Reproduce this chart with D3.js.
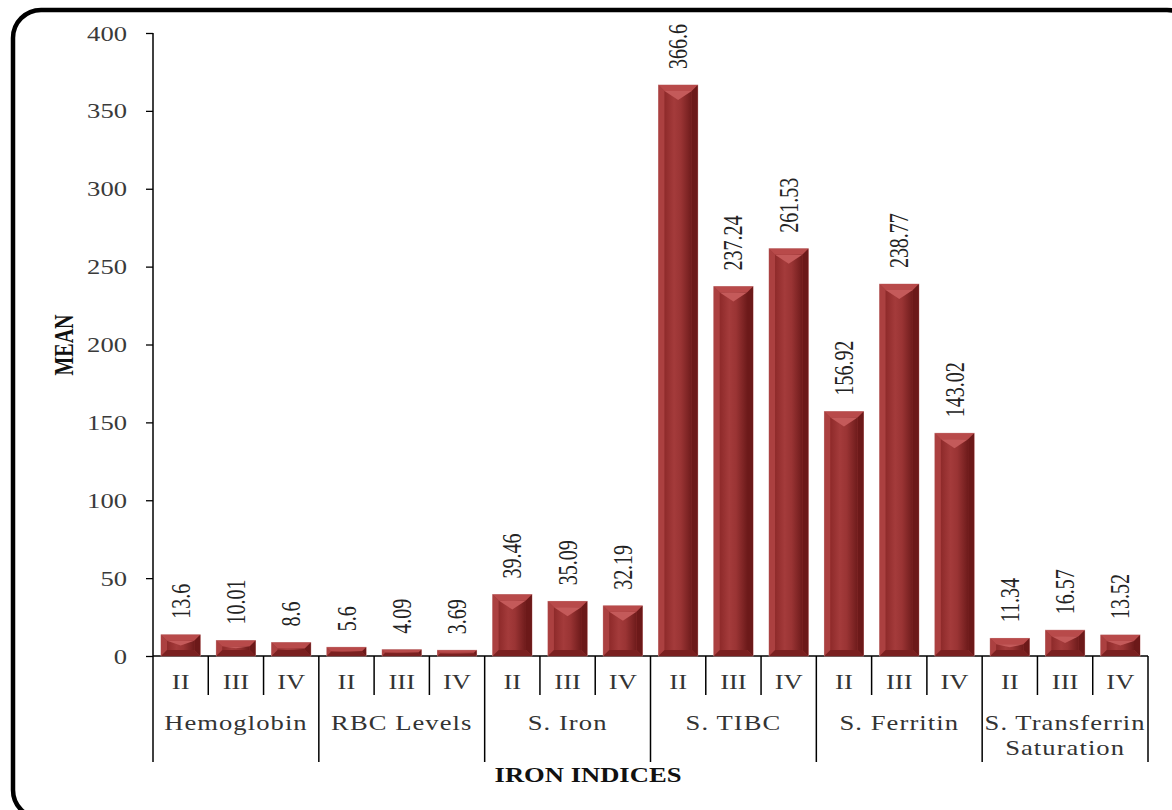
<!DOCTYPE html>
<html>
<head>
<meta charset="utf-8">
<script src="https://cdn.jsdelivr.net/npm/d3@7"></script>
<style>
  html, body { margin: 0; padding: 0; background: #fff; }
  svg { display: block; }
  text { font-family: "Liberation Serif", "Times New Roman", serif; }
</style>
</head>
<body>
<svg id="chart" width="1172" height="810"></svg>
<script>
// Iron indices by stage
const groups = ["Hemoglobin", "RBC Levels", "S. Iron", "S. TIBC", "S. Ferritin", "S. Transferrin Saturation"];
const groupLines = [["Hemoglobin"], ["RBC Levels"], ["S. Iron"], ["S. TIBC"], ["S. Ferritin"], ["S. Transferrin", "Saturation"]];
const stages = ["II", "III", "IV"];
const hemoglobin = [13.6, 10.01, 8.6];
const rbcLevels = [5.6, 4.09, 3.69];
const sIron = [39.46, 35.09, 32.19];
const sTIBC = [366.6, 237.24, 261.53];
const sFerritin = [156.92, 238.77, 143.02];
const sTransferrinSat = [11.34, 16.57, 13.52];
const seriesValues = [hemoglobin, rbcLevels, sIron, sTIBC, sFerritin, sTransferrinSat];
const yTicks = [0, 50, 100, 150, 200, 250, 300, 350, 400];

const rows = [];
groups.forEach((g, gi) => stages.forEach((s, si) => {
  rows.push({ key: g + "|" + s, group: g, gi, stage: s, si, value: seriesValues[gi][si] });
}));

const svg = d3.select("#chart");
const SX = 1.33; // horizontal stretch applied to text glyphs

const plotLeft = 153, plotRight = 1148, plotBase = 656, plotTop = 33;
const y = d3.scaleLinear().domain([0, 400]).range([plotBase, plotTop]);
const x = d3.scaleBand().domain(rows.map(d => d.key)).range([plotLeft, plotRight])
  .paddingInner(0.29).paddingOuter(0.145);
const step = x.step();
const slotLeft = i => plotLeft + i * step;

// outer frame
svg.append("rect")
  .attr("x", 13).attr("y", 10).attr("width", 1182).attr("height", 808)
  .attr("rx", 28).attr("ry", 28)
  .attr("fill", "none").attr("stroke", "#000").attr("stroke-width", 4.5);

// gradient for bar face
const defs = svg.append("defs");
const face = defs.append("linearGradient").attr("id", "faceGrad")
  .attr("x1", "0").attr("x2", "1").attr("y1", "0").attr("y2", "0");
face.append("stop").attr("offset", "0%").attr("stop-color", "#8e2a2a");
face.append("stop").attr("offset", "35%").attr("stop-color", "#a43b3b");
face.append("stop").attr("offset", "60%").attr("stop-color", "#9a3434");
face.append("stop").attr("offset", "100%").attr("stop-color", "#6e1b1b");

// y axis
const yAxis = d3.axisLeft(y).tickValues(yTicks).tickSize(7).tickPadding(0).tickFormat(d3.format("d"));
const yg = svg.append("g").attr("transform", `translate(${plotLeft},0)`).call(yAxis);
yg.select(".domain").remove();
yg.selectAll(".tick line").attr("stroke", "#000").attr("stroke-width", 1.3);
yg.selectAll(".tick text").remove();
yg.selectAll(".tick").append("text")
  .attr("transform", `translate(-26,0) scale(${SX},1)`)
  .attr("text-anchor", "end").attr("dy", "0.35em")
  .attr("fill", "#3a3a3a").attr("font-size", 20)
  .text(d => d);

// axis lines
svg.append("line").attr("x1", plotLeft).attr("x2", plotLeft).attr("y1", plotTop).attr("y2", 762)
  .attr("stroke", "#000").attr("stroke-width", 1.5);
svg.append("line").attr("x1", plotLeft).attr("x2", plotRight).attr("y1", plotBase).attr("y2", plotBase)
  .attr("stroke", "#000").attr("stroke-width", 1.5);

// bars with bevelled edges
const bars = svg.append("g").selectAll("g").data(rows).join("g");
bars.each(function (d) {
  const g = d3.select(this);
  const bx = x(d.key), bw = x.bandwidth();
  const by = y(d.value), bh = plotBase - by;
  const b = Math.min(6, bh / 2.2);
  g.append("rect").attr("x", bx).attr("y", by).attr("width", bw).attr("height", bh)
    .attr("fill", "#a03838").attr("stroke", "#c98a8a").attr("stroke-width", 0.8);
  const poly = (pts, fill) => g.append("polygon")
    .attr("points", pts.map(p => p.join(",")).join(" ")).attr("fill", fill);
  poly([[bx, by], [bx + bw, by], [bx + bw - b, by + b], [bx + b, by + b]], "#b84a4a");
  poly([[bx, by], [bx + b, by + b], [bx + b, by + bh - b], [bx, by + bh]], "#ab4040");
  poly([[bx + bw, by], [bx + bw, by + bh], [bx + bw - b, by + bh - b], [bx + bw - b, by + b]], "#6c1919");
  poly([[bx, by + bh], [bx + b, by + bh - b], [bx + bw - b, by + bh - b], [bx + bw, by + bh]], "#7a2020");
  g.append("rect").attr("x", bx + b).attr("y", by + b)
    .attr("width", Math.max(0, bw - 2 * b)).attr("height", Math.max(0, bh - 2 * b))
    .attr("fill", "url(#faceGrad)");
  const tri = Math.min(9, (bh - 2 * b) * 0.5);
  if (tri > 1) {
    poly([[bx + b, by + b], [bx + bw - b, by + b], [bx + bw / 2, by + b + tri]], "#c45a5a");
  }
});

// value labels, rotated
svg.append("g").selectAll("text").data(rows).join("text")
  .attr("transform", d => `translate(${x(d.key) + x.bandwidth() / 2},${y(d.value) - 16}) scale(${SX},1) rotate(-90)`)
  .attr("text-anchor", "start").attr("dominant-baseline", "central")
  .attr("fill", "#222").attr("font-size", 20)
  .text(d => d.value);

// stage labels and inner separators
const xa = svg.append("g");
xa.selectAll("text.stage").data(rows).join("text").attr("class", "stage")
  .attr("transform", d => `translate(${x(d.key) + x.bandwidth() / 2},689) scale(${SX},1)`)
  .attr("text-anchor", "middle").attr("fill", "#333").attr("font-size", 20)
  .text(d => d.stage);
xa.selectAll("line.inner").data(rows.filter(d => d.si > 0)).join("line").attr("class", "inner")
  .attr("x1", d => slotLeft(d.gi * 3 + d.si)).attr("x2", d => slotLeft(d.gi * 3 + d.si))
  .attr("y1", plotBase).attr("y2", 695).attr("stroke", "#000").attr("stroke-width", 1.5);
xa.selectAll("line.outer").data(d3.range(1, groups.length + 1)).join("line").attr("class", "outer")
  .attr("x1", i => slotLeft(i * 3)).attr("x2", i => slotLeft(i * 3))
  .attr("y1", plotBase).attr("y2", 762).attr("stroke", "#000").attr("stroke-width", 1.5);

// group labels
xa.selectAll("g.grp").data(groups).join("g").attr("class", "grp")
  .each(function (g, gi) {
    const cx = slotLeft(gi * 3) + step * 1.5;
    d3.select(this).selectAll("text").data(groupLines[gi]).join("text")
      .attr("transform", (t, li) => `translate(${cx},${730 + li * 25}) scale(${SX},1)`)
      .attr("text-anchor", "middle").attr("fill", "#333").attr("font-size", 20)
      .attr("letter-spacing", 0.8)
      .text(t => t);
  });

// axis titles
svg.append("text")
  .attr("transform", `translate(588,782) scale(${SX},1)`)
  .attr("text-anchor", "middle").attr("font-size", 20).attr("font-weight", "bold").attr("fill", "#111")
  .text("IRON INDICES");
svg.append("text")
  .attr("transform", `translate(64,345) scale(${SX},1) rotate(-90)`)
  .attr("text-anchor", "middle").attr("dominant-baseline", "central")
  .attr("font-size", 20).attr("font-weight", "bold").attr("fill", "#111")
  .text("MEAN");
</script>
</body>
</html>
